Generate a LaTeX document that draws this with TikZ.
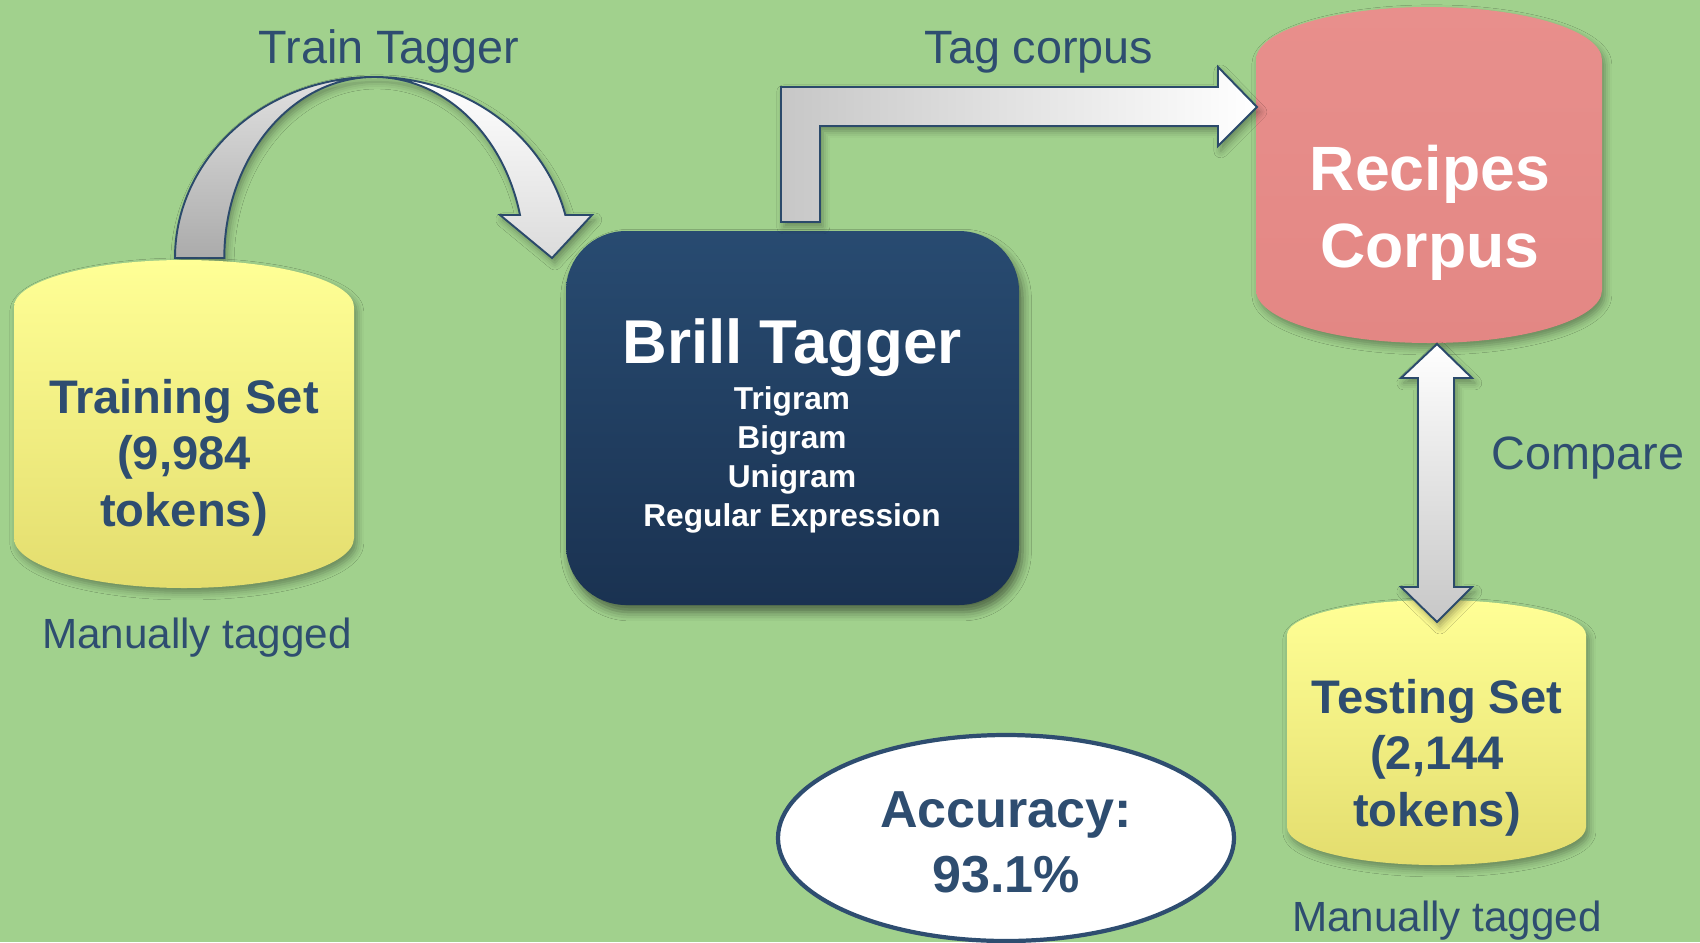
\documentclass[tikz,border=0pt]{standalone}
\usepackage{fontspec}
\setmainfont{Liberation Sans}
\usetikzlibrary{shadows.blur}

\definecolor{bggreen}{HTML}{A1D18D}
\definecolor{inkblue}{HTML}{2E4D70}
\definecolor{navytop}{HTML}{284B71}
\definecolor{navybot}{HTML}{1A3251}
\definecolor{canyellowtop}{HTML}{FFFF96}
\definecolor{canyellowbot}{HTML}{E3DD6E}
\definecolor{canpinktop}{HTML}{E88F8C}
\definecolor{canpinkbot}{HTML}{E38784}
\definecolor{arrowedge}{HTML}{2B4A6B}

% centred stack of lines whose baseline is the first line
\newcommand\linestack[1]{\begin{tabular}[t]{@{}c@{}}#1\end{tabular}}

\begin{document}
\begin{tikzpicture}[x=0.01cm, y=-0.01cm,
  flowtext/.style={text=inkblue, font=\fontsize{13.3}{16}\selectfont, inner sep=0pt},
  tagnote/.style={text=inkblue, font=\fontsize{12}{14}\selectfont, inner sep=0pt, anchor=base},
  cantext/.style={text=inkblue, font=\bfseries\fontsize{13.4}{16.2}\selectfont, inner sep=0pt, anchor=base},
  softshadow/.style={blur shadow={shadow xshift=0.8pt, shadow yshift=-1.4pt, shadow blur radius=2pt, shadow opacity=35}},
  blockarrow/.style={draw=arrowedge, line width=0.55pt, line join=miter},
]
% canvas
\fill[bggreen] (0,0) rectangle (1700,942);
\useasboundingbox (0,0) rectangle (1700,942);

% anchor points of the block arrows
\coordinate (train-out) at (198,258);
\coordinate (brill-in)  at (552,258);
\coordinate (brill-out) at (800,222);
\coordinate (corpus-in) at (1257,107);
\coordinate (corpus-low) at (1437,344);
\coordinate (test-high) at (1437,622);

% curved "Train Tagger" arrow: two bands meeting at the top
\def\curvedoutline{
  (175,258) arc[start angle=180, end angle=270, x radius=199, y radius=181]
  arc[start angle=270, end angle=346.26, x radius=197, y radius=181]
  -- (592,215) -- (brill-in) -- (500,215) -- (520,215)
  arc[start angle=346.26, end angle=270, x radius=150, y radius=181]
  arc[start angle=270, end angle=180, x radius=150, y radius=181] -- cycle}
\path[softshadow] \curvedoutline;
\path[top color=black!12, bottom color=black!33]
  (175,258) arc[start angle=180, end angle=270, x radius=199, y radius=181]
  arc[start angle=270, end angle=180, x radius=150, y radius=181] -- cycle;
\path[top color=white, bottom color=black!14]
  (374,77) arc[start angle=270, end angle=346.26, x radius=197, y radius=181]
  -- (592,215) -- (brill-in) -- (500,215) -- (520,215)
  arc[start angle=346.26, end angle=270, x radius=150, y radius=181] -- cycle;
\draw[blockarrow] \curvedoutline;

% Training Set can
\path[softshadow, top color=canyellowtop, bottom color=canyellowbot]
  (14,307) arc[start angle=180, end angle=360, x radius=170, y radius=47]
  -- (354,538) arc[start angle=0, end angle=180, x radius=170, y radius=50] -- cycle;
\node[cantext] (train) at (184,413) {\linestack{Training Set\\(9,984\\tokens)}};

% Recipes Corpus can
\path[softshadow, top color=canpinktop, bottom color=canpinkbot]
  (1256,60) arc[start angle=180, end angle=360, x radius=173, y radius=53]
  -- (1602,290) arc[start angle=0, end angle=180, x radius=173, y radius=53] -- cycle;
\node[anchor=base, inner sep=0pt, text=white, font=\bfseries\fontsize{17.8}{21.9}\selectfont]
  (corpus) at (1430,190) {\linestack{Recipes\\Corpus}};

% Testing Set can
\path[softshadow, top color=canyellowtop, bottom color=canyellowbot]
  (1287,635) arc[start angle=180, end angle=360, x radius=149.5, y radius=35]
  -- (1586,827) arc[start angle=0, end angle=180, x radius=149.5, y radius=38] -- cycle;
\node[cantext] (test) at (1437,713) {\linestack{Testing Set\\(2,144\\tokens)}};

% Brill Tagger box
\path[rounded corners=0.6cm, top color=navytop, bottom color=navybot,
      blur shadow={shadow xshift=1pt, shadow yshift=-2pt, shadow blur radius=2.5pt, shadow opacity=50}]
  (566,231) rectangle (1019,605);
\node[anchor=base, inner sep=0pt, text=white, font=\bfseries\fontsize{17.6}{20}\selectfont]
  (brill) at (792,363) {Brill Tagger};
\node[anchor=base, inner sep=0pt, text=white, font=\bfseries\fontsize{9}{11.1}\selectfont]
  (brill-list) at (792,409) {\linestack{Trigram\\Bigram\\Unigram\\Regular Expression}};

% bent "Tag corpus" arrow
\path[blockarrow, softshadow, left color=black!22, right color=white]
  (781,222) -- (781,87) -- (1218,87) -- (1218,67) -- (corpus-in)
  -- (1218,146) -- (1218,126) -- (820,126) -- (820,222) -- cycle;

% double "Compare" arrow
\path[blockarrow, softshadow, top color=white, bottom color=black!22]
  (corpus-low) -- (1472,378) -- (1454,378) -- (1454,587) -- (1472,587) -- (test-high)
  -- (1401,587) -- (1418,587) -- (1418,378) -- (1401,378) -- cycle;

% accuracy ellipse
\draw[inkblue, line width=1.2pt, fill=white] (1006,838) ellipse [x radius=228, y radius=103];
\node[anchor=base, inner sep=0pt, text=inkblue, font=\bfseries\fontsize{14.8}{18.5}\selectfont]
  (accuracy) at (1006,827) {\linestack{Accuracy:\\93.1\%}};

% arrow captions and notes
\node[flowtext, anchor=base] (train-caption) at (389,63) {Train Tagger};
\node[flowtext, anchor=base] (tag-caption) at (1039,63) {Tag corpus};
\node[flowtext, anchor=base west] (compare-caption) at (1491,469) {Compare};
\node[tagnote] (train-note) at (197,648) {Manually tagged};
\node[tagnote] (test-note) at (1447,931) {Manually tagged};
\end{tikzpicture}
\end{document}
